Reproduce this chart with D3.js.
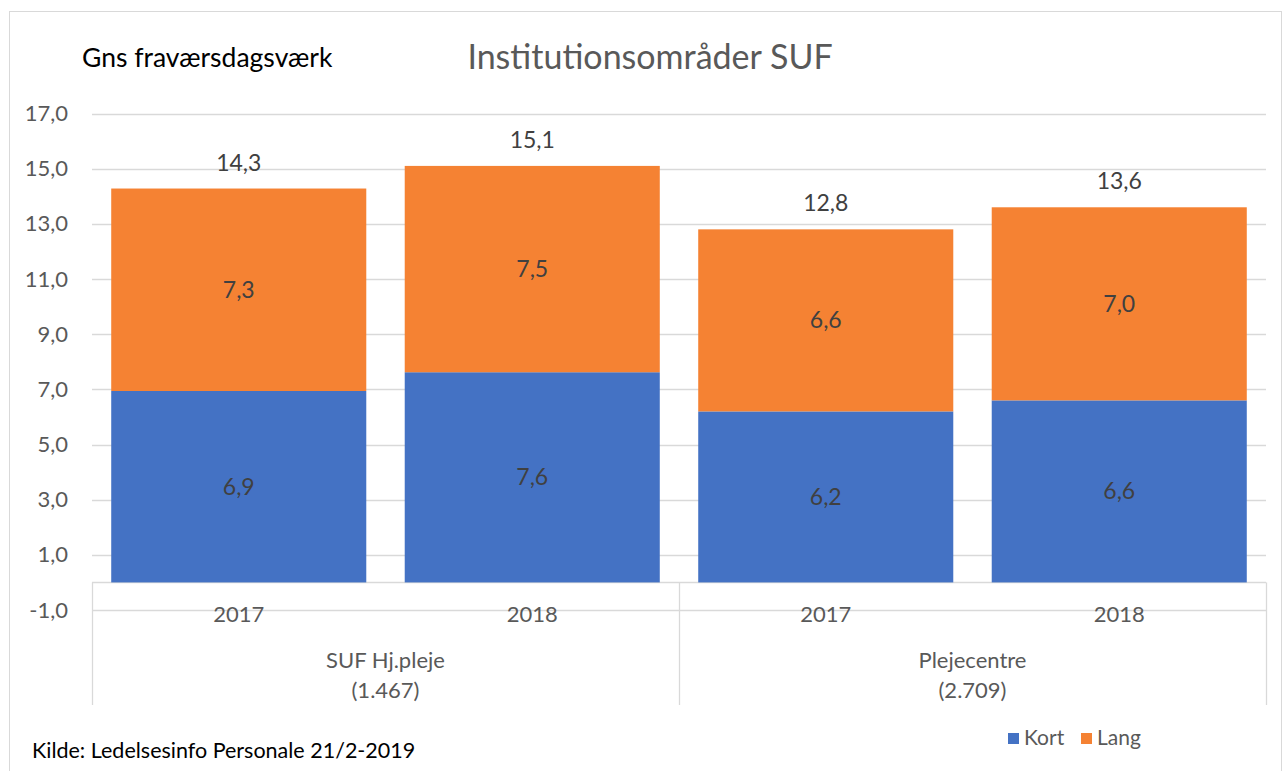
<!DOCTYPE html>
<html>
<head>
<meta charset="utf-8">
<script src="https://cdn.jsdelivr.net/npm/d3@7"></script>
<style>
  body { margin: 0; background: #fff; }
  svg text { font-family: Lato, "Open Sans", sans-serif; }
</style>
</head>
<body>
<svg id="chart" width="1284" height="771"></svg>
<script>
// data
var years = ['2017', '2018', '2017', '2018'],
    groups = [['SUF Hj.pleje', '(1.467)'], ['Plejecentre', '(2.709)']],
    kort = [6.94, 7.62, 6.2, 6.6],
    lang = [7.34, 7.48, 6.6, 7.0],
    yTicks = [-1, 1, 3, 5, 7, 9, 11, 13, 15, 17],
    seriesNames = ['Kort', 'Lang'],
    seriesColors = ['#4472C4', '#F58233'];

var svg = d3.select('#chart'),
    fmt = function(v) { return v.toFixed(1).replace('.', ','); };

// outer frame
svg.append('rect')
    .attr('x', 9.5).attr('y', 11.5)
    .attr('width', 1272).attr('height', 770)
    .attr('fill', 'none')
    .attr('stroke', '#d9d9d9');

var x = d3.scaleBand()
        .domain(d3.range(years.length))
        .range([92, 1266])
        .paddingInner(0.131)
        .paddingOuter(0.0655),
    y = d3.scaleLinear()
        .domain([-1, 17])
        .range([610, 113.5]);

// gridlines + tick labels
svg.append('g').selectAll('line').data(yTicks).enter()
  .append('line')
    .attr('x1', 92).attr('x2', 1266)
    .attr('y1', function(d) { return Math.round(y(d)) + 0.5; })
    .attr('y2', function(d) { return Math.round(y(d)) + 0.5; })
    .attr('stroke', '#d9d9d9')
    .attr('stroke-width', 1.3);

svg.append('g').selectAll('text').data(yTicks).enter()
  .append('text')
    .attr('x', 68)
    .attr('y', function(d) { return y(d) + 7.5; })
    .attr('text-anchor', 'end')
    .attr('fill', '#595959')
    .style('font-size', '22px')
    .text(fmt);

// category axis lines
var axisG = svg.append('g').attr('stroke', '#d9d9d9').attr('stroke-width', 1.3);
axisG.append('line')
    .attr('x1', 92).attr('x2', 1266)
    .attr('y1', Math.round(y(0)) + 0.5).attr('y2', Math.round(y(0)) + 0.5);
axisG.selectAll('.sep').data([92, 679, 1266]).enter()
  .append('line')
    .attr('x1', function(d) { return d + 0.5; })
    .attr('x2', function(d) { return d + 0.5; })
    .attr('y1', y(0)).attr('y2', 705);

// stacked bars
var bars = svg.append('g');
bars.selectAll('.kort').data(kort).enter()
  .append('rect')
    .attr('x', function(d, i) { return x(i); })
    .attr('width', x.bandwidth())
    .attr('y', function(d) { return y(d); })
    .attr('height', function(d) { return y(0) - y(d); })
    .attr('fill', seriesColors[0]);
bars.selectAll('.lang').data(lang).enter()
  .append('rect')
    .attr('x', function(d, i) { return x(i); })
    .attr('width', x.bandwidth())
    .attr('y', function(d, i) { return y(kort[i] + d); })
    .attr('height', function(d, i) { return y(kort[i]) - y(kort[i] + d); })
    .attr('fill', seriesColors[1]);

// value labels
var labels = svg.append('g')
    .attr('fill', '#404040')
    .attr('text-anchor', 'middle')
    .style('font-size', '23px');
labels.selectAll('.lk').data(kort).enter()
  .append('text')
    .attr('x', function(d, i) { return x(i) + x.bandwidth() / 2; })
    .attr('y', function(d) { return y(d / 2) + 8; })
    .text(fmt);
labels.selectAll('.ll').data(lang).enter()
  .append('text')
    .attr('x', function(d, i) { return x(i) + x.bandwidth() / 2; })
    .attr('y', function(d, i) { return y(kort[i] + d / 2) + 8; })
    .text(fmt);
labels.selectAll('.lt').data(kort).enter()
  .append('text')
    .attr('x', function(d, i) { return x(i) + x.bandwidth() / 2; })
    .attr('y', function(d, i) { return y(d + lang[i]) - 18; })
    .text(function(d, i) { return fmt(d + lang[i]); });

// category labels
svg.append('g').selectAll('text').data(years).enter()
  .append('text')
    .attr('x', function(d, i) { return x(i) + x.bandwidth() / 2; })
    .attr('y', 622)
    .attr('text-anchor', 'middle')
    .attr('fill', '#595959')
    .style('font-size', '22px')
    .text(function(d) { return d; });

var groupText = svg.append('g').selectAll('text').data(groups).enter()
  .append('text')
    .attr('x', function(d, i) { return (x(i * 2) + x(i * 2 + 1) + x.bandwidth()) / 2; })
    .attr('y', 668)
    .attr('text-anchor', 'middle')
    .attr('fill', '#595959')
    .style('font-size', '22px');
groupText.selectAll('tspan').data(function(d) { return d; }).enter()
  .append('tspan')
    .attr('x', function() { return d3.select(this.parentNode).attr('x'); })
    .attr('dy', function(d, i) { return i ? 30 : 0; })
    .text(function(d) { return d; });

// titles
svg.append('text')
    .attr('x', 82).attr('y', 67)
    .attr('fill', '#000')
    .style('font-size', '26.5px')
    .text('Gns fraværsdagsværk');
svg.append('text')
    .attr('x', 650).attr('y', 69)
    .attr('text-anchor', 'middle')
    .attr('fill', '#595959')
    .style('font-size', '34px')
    .text('Institutionsområder SUF');

// legend
var legend = svg.append('g').selectAll('g').data(seriesNames).enter()
  .append('g')
    .attr('transform', function(d, i) { return 'translate(' + (1008 + i * 73) + ',733)'; });
legend.append('rect')
    .attr('width', 11).attr('height', 11)
    .attr('fill', function(d, i) { return seriesColors[i]; });
legend.append('text')
    .attr('x', 16).attr('y', 12)
    .attr('fill', '#595959')
    .style('font-size', '21px')
    .text(function(d) { return d; });

// source
svg.append('text')
    .attr('x', 32).attr('y', 758)
    .attr('fill', '#000')
    .style('font-size', '21.5px')
    .text('Kilde: Ledelsesinfo Personale 21/2-2019');
</script>
</body>
</html>
